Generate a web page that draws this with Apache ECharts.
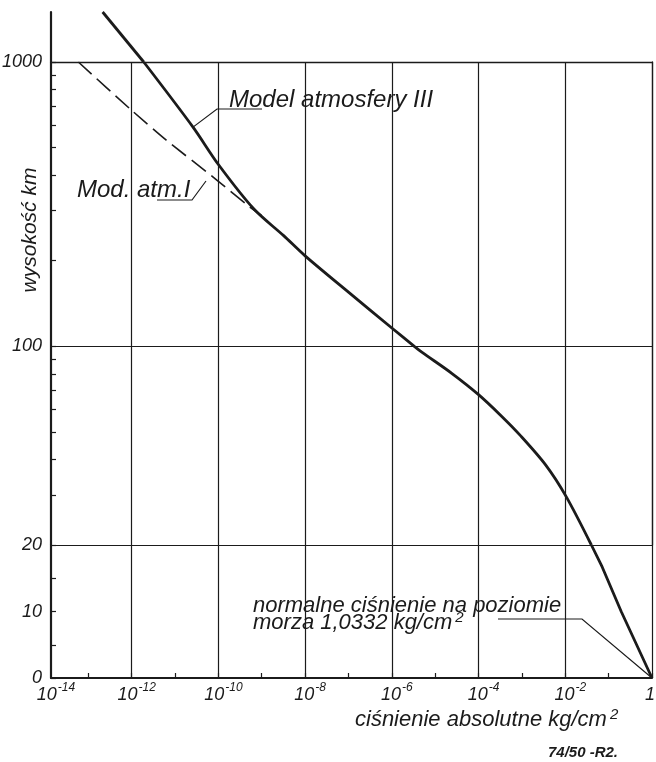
<!DOCTYPE html>
<html><head><meta charset="utf-8">
<script src="https://cdn.jsdelivr.net/npm/echarts@6/dist/echarts.min.js"></script>
<style>html,body{margin:0;padding:0;background:#fff}#c{width:656px;height:762px}</style>
</head><body><div id="c"></div>
<script>
// ---------- data ----------
const pressureTicks = [1e-13,1e-12,1e-11,1e-10,1e-9,1e-8,1e-7,1e-6,1e-5,1e-4,1e-3,1e-2,1e-1,1];
const pressureLabels = [1e-14,1e-12,1e-10,1e-8,1e-6,1e-4,1e-2,1];
const heightTicksLow = [0,5,10,15,20];
const heightLabelsLow = [0,10,20];
const heightTicksHigh = [30,40,50,60,70,80,90,100,200,300,400,500,600,700,800,900,1000];
const heightLabelsHigh = [100,1000];
const heightGridLines = [20,100,1000];

const modelIIIPressure = [2.14e-13,1.9e-12,2.6e-11,1e-10,6.6e-10,3.2e-9,1e-8,1e-7,1e-6,3.3e-6,5.0e-6,2.45e-5,1e-4,3.3e-4,9.5e-4,3.55e-3,1.05e-2,4.0e-2,7.1e-2,0.195,1];
const modelIIIHeight   = [1500,1000,590,436,304,245,208,155,116,100,95.2,80.2,67.6,57.0,48.3,38.2,29.6,20,16.7,10,0];

const modelIPressure = [5.9e-14,1e-12,6.2e-12,8.9e-11,5.0e-10,1e-9];
const modelIHeight   = [1000,676,532,386,311,288];

// ---------- helpers ----------
const INK = '#1b1b1b';
const FONT = "'Liberation Sans Narrow','Liberation Sans',Arial,sans-serif";
function seg(p, h, lo, hi) {
  const out = [];
  for (let i = 0; i < p.length; i++) if (h[i] >= lo && h[i] <= hi) out.push([p[i], h[i]]);
  return out;
}
// the drawn axis starts a little to the right of 10^-14, as in the original drawing
const XMIN = 1.38e-14, XMAX = 1;
const labelValues = pressureLabels.map(v => Math.max(v, XMIN));
const lbl = {fontFamily: FONT, fontStyle: 'italic', color: INK};
function xFmt(v) {
  const e = Math.round(Math.log10(v));
  return e === 0 ? '{c|1}' : '{b|10}{s|' + e + '}';
}
const xRich = {
  b: Object.assign({fontSize: 18, lineHeight: 22, verticalAlign: 'bottom', padding: [0,0,0,10]}, lbl),
  c: Object.assign({fontSize: 18, lineHeight: 22, verticalAlign: 'bottom', padding: [0,4,0,0]}, lbl),
  s: Object.assign({fontSize: 12, lineHeight: 12, verticalAlign: 'top', padding: [0,0,0,1]}, lbl)
};
const hidden = {axisLine:{show:false}, axisTick:{show:false}, axisLabel:{show:false}, splitLine:{show:false}};
const yFmt = v => String(v);

const chart = echarts.init(document.getElementById('c'), null, {renderer: 'canvas'});
const option = {
  animation: false,
  backgroundColor: '#fff',
  grid: [
    {left: 51, right: 4, top: 545, height: 133, outerBoundsMode: 'none'},
    {left: 51, right: 4, top: 62, height: 483, outerBoundsMode: 'none'},
    {left: 51, right: 4, top: 12, height: 50, outerBoundsMode: 'none'}
  ],
  xAxis: [
    {gridIndex: 0, type: 'log', min: XMIN, max: XMAX, position: 'bottom',
     axisLine: {show: true, onZero: false, lineStyle: {color: INK, width: 2.2}},
     axisTick: {show: true, inside: true, length: 5, customValues: pressureTicks, lineStyle: {color: INK, width: 1.2}},
     axisLabel: {show: true, customValues: labelValues, formatter: xFmt, rich: xRich, margin: 4, hideOverlap: false},
     splitLine: {show: false}},
    {gridIndex: 0, type: 'log', min: XMIN, max: XMAX, position: 'top',
     axisLine: {show: false, onZero: false}, axisTick: {show: false, customValues: pressureLabels},
     axisLabel: {show: false}, splitLine: {show: true, lineStyle: {color: INK, width: 1.2}}},
    {gridIndex: 1, type: 'log', min: XMIN, max: XMAX, position: 'bottom',
     axisLine: {show: true, onZero: false, lineStyle: {color: INK, width: 1.2}},
     axisTick: {show: false, customValues: pressureLabels},
     axisLabel: {show: false}, splitLine: {show: true, lineStyle: {color: INK, width: 1.2}}},
    {gridIndex: 1, type: 'log', min: XMIN, max: XMAX, position: 'top',
     axisLine: {show: true, onZero: false, lineStyle: {color: INK, width: 1.3}},
     axisTick: {show: false}, axisLabel: {show: false}, splitLine: {show: false}},
    Object.assign({gridIndex: 2, type: 'log', min: XMIN, max: XMAX}, hidden)
  ],
  yAxis: [
    {gridIndex: 0, type: 'value', min: 0, max: 20, interval: 5, position: 'left',
     axisLine: {show: true, onZero: false, lineStyle: {color: INK, width: 2.2}},
     axisTick: {show: true, inside: true, length: 5, customValues: heightTicksLow, lineStyle: {color: INK, width: 1.2}},
     axisLabel: Object.assign({show: true, customValues: heightLabelsLow, formatter: yFmt, fontSize: 18, margin: 9}, lbl),
     splitLine: {show: false}},
    {gridIndex: 1, type: 'log', min: 20, max: 1000, position: 'left',
     axisLine: {show: true, onZero: false, lineStyle: {color: INK, width: 2.2}},
     axisTick: {show: true, inside: true, length: 5, customValues: heightTicksHigh, lineStyle: {color: INK, width: 1.2}},
     axisLabel: Object.assign({show: true, customValues: heightLabelsHigh, formatter: yFmt, fontSize: 18, margin: 9}, lbl),
     splitLine: {show: false}},
    {gridIndex: 1, type: 'log', min: 20, max: 1000, position: 'right',
     axisLine: {show: true, onZero: false, lineStyle: {color: INK, width: 1.3}},
     axisTick: {show: false, customValues: heightGridLines},
     axisLabel: {show: false}, splitLine: {show: true, lineStyle: {color: INK, width: 1.2}}},
    {gridIndex: 2, type: 'log', min: 1000, max: 1500, position: 'left',
     axisLine: {show: true, onZero: false, lineStyle: {color: INK, width: 2.2}},
     axisTick: {show: false}, axisLabel: {show: false}, splitLine: {show: false}}
  ],
  series: [
    {name: 'Model atmosfery III', type: 'line', xAxisIndex: 0, yAxisIndex: 0, showSymbol: false, smooth: false,
     data: seg(modelIIIPressure, modelIIIHeight, 0, 20), lineStyle: {color: INK, width: 2.8}},
    {name: 'Model atmosfery III', type: 'line', xAxisIndex: 2, yAxisIndex: 1, showSymbol: false, smooth: 0.3,
     data: seg(modelIIIPressure, modelIIIHeight, 20, 1000), lineStyle: {color: INK, width: 2.8}},
    {name: 'Model atmosfery III', type: 'line', xAxisIndex: 4, yAxisIndex: 3, showSymbol: false, smooth: false,
     data: seg(modelIIIPressure, modelIIIHeight, 1000, 1500), lineStyle: {color: INK, width: 2.8}},
    {name: 'Mod. atm. I', type: 'line', xAxisIndex: 2, yAxisIndex: 1, showSymbol: false, smooth: 0.2,
     data: seg(modelIPressure, modelIHeight, 20, 1000), lineStyle: {color: INK, width: 1.6, type: [18, 7]}}
  ]
};
chart.setOption(option);

// leader lines anchored on the curves (data coordinates)
const aIII = chart.convertToPixel({xAxisIndex: 2, yAxisIndex: 1}, [modelIIIPressure[2], modelIIIHeight[2]]);
const aSea = chart.convertToPixel({xAxisIndex: 0, yAxisIndex: 0}, [1, 0]);
const supRich = (size) => ({
  a: {fontSize: size, fontStyle: 'italic', fontFamily: FONT, lineHeight: size + 2, verticalAlign: 'bottom'},
  s: {fontSize: 15, fontStyle: 'italic', fontFamily: FONT, lineHeight: 15, verticalAlign: 'top', padding: [0,0,0,3]}
});
chart.setOption({
  graphic: [
    {type: 'text', x: 229, y: 100, style: {text: 'Model atmosfery III', font: 'italic 24px ' + FONT, fill: INK, verticalAlign: 'middle'}},
    {type: 'polyline', shape: {points: [aIII, [217,109], [262,109]]}, style: {stroke: INK, lineWidth: 1.2, fill: null}},
    {type: 'text', x: 77, y: 190, style: {text: 'Mod. atm.I', font: 'italic 24px ' + FONT, fill: INK, verticalAlign: 'middle'}},
    {type: 'polyline', shape: {points: [[157,200],[192,200],[206,181]]}, style: {stroke: INK, lineWidth: 1.2, fill: null}},
    {type: 'text', x: 253, y: 606, style: {text: 'normalne ciśnienie na poziomie', font: 'italic 22px ' + FONT, fill: INK, verticalAlign: 'middle'}},
    {type: 'text', x: 253, y: 622, style: {text: '{a|morza 1,0332 kg/cm}{s|2}', fill: INK, verticalAlign: 'middle', rich: supRich(22)}},
    {type: 'polyline', shape: {points: [[498,619],[582,619], aSea]}, style: {stroke: INK, lineWidth: 1.2, fill: null}},
    {type: 'text', x: 355, y: 719, style: {text: '{a|ciśnienie absolutne kg/cm}{s|2}', fill: INK, verticalAlign: 'middle', rich: supRich(22)}},
    {type: 'text', x: 548, y: 753, style: {text: '74/50 -R2.', font: 'italic bold 15px ' + FONT, fill: INK, verticalAlign: 'middle'}},
    {type: 'text', x: 30, y: 230, rotation: Math.PI / 2, style: {text: 'wysokość km', font: 'italic 21px ' + FONT, fill: INK, align: 'center', verticalAlign: 'middle'}}
  ]
});
</script>
</body></html>
